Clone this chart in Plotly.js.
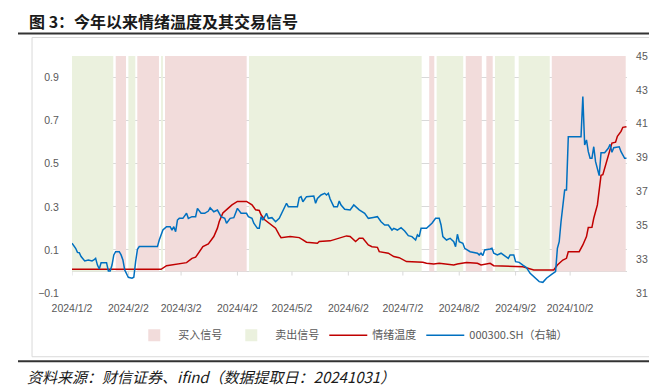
<!DOCTYPE html>
<html><head><meta charset="utf-8">
<script src="https://cdn.plot.ly/plotly-3.0.1.min.js"></script>
<style>html,body{margin:0;padding:0;background:#fff}</style>
</head><body><div id="chart" style="width:649px;height:392px"></div>
<script>
// ---- data ----
const tickDates = ['2024-01-02','2024-02-02','2024-03-02','2024-04-02','2024-05-02','2024-06-02','2024-07-02','2024-08-02','2024-09-02','2024-10-02'];
const tickLabels = ['2024/1/2','2024/2/2','2024/3/2','2024/4/2','2024/5/2','2024/6/2','2024/7/2','2024/8/2','2024/9/2','2024/10/2'];

// buy-signal periods (买入信号)
const buyStart = ['2024-01-26T01:00','2024-02-06T22:00','2024-02-22T04:00','2024-07-16T12:00','2024-08-05T14:00','2024-08-16T22:00','2024-09-21T22:00'];
const buyEnd   = ['2024-01-31T17:00','2024-02-18T20:00','2024-04-07T02:00','2024-07-19T07:00','2024-08-14T10:00','2024-08-20T10:00','2024-11-01T14:00'];
// sell-signal periods (卖出信号)
const sellStart = ['2024-01-02T00:00','2024-02-02T00:00','2024-02-20T00:00','2024-04-08T09:00','2024-07-20T14:00','2024-08-21T16:00','2024-09-03T17:00'];
const sellEnd   = ['2024-01-24T17:00','2024-02-05T20:00','2024-02-21T00:00','2024-07-12T08:00','2024-08-04T05:00','2024-09-01T12:00','2024-09-20T19:00'];

// 情绪温度 (left axis)
const tempDates = ['2024-01-02','2024-02-20','2024-02-23','2024-02-29','2024-03-05','2024-03-08','2024-03-10','2024-03-14','2024-03-17','2024-03-20','2024-03-22','2024-03-23','2024-03-25','2024-03-28','2024-03-30','2024-04-02','2024-04-07','2024-04-10','2024-04-12','2024-04-14','2024-04-15','2024-04-17','2024-04-21','2024-04-23','2024-04-25','2024-04-26','2024-05-01','2024-05-06','2024-05-08','2024-05-10','2024-05-16','2024-05-17','2024-05-23','2024-05-28','2024-06-01','2024-06-03','2024-06-06','2024-06-08','2024-06-10','2024-06-13','2024-06-15','2024-06-18','2024-06-19','2024-06-24','2024-06-27','2024-06-30','2024-07-04','2024-07-13','2024-07-15','2024-07-19','2024-07-22','2024-07-30','2024-08-01','2024-08-06','2024-08-12','2024-08-14','2024-08-19','2024-08-21','2024-08-26','2024-09-03','2024-09-06','2024-09-12','2024-09-23','2024-09-25','2024-09-28','2024-09-30','2024-10-01','2024-10-07','2024-10-09','2024-10-11','2024-10-12','2024-10-14','2024-10-15','2024-10-17','2024-10-18','2024-10-19','2024-10-20','2024-10-22','2024-10-24','2024-10-25','2024-10-27','2024-10-28','2024-10-30','2024-10-31','2024-11-02'];
const tempValues = [0.01,0.01,0.027,0.034,0.041,0.061,0.066,0.115,0.128,0.162,0.201,0.232,0.271,0.294,0.309,0.325,0.325,0.309,0.286,0.283,0.263,0.24,0.216,0.201,0.17,0.157,0.162,0.157,0.147,0.136,0.131,0.139,0.142,0.154,0.165,0.162,0.139,0.154,0.154,0.123,0.115,0.112,0.092,0.085,0.069,0.064,0.046,0.043,0.038,0.035,0.038,0.03,0.035,0.041,0.038,0.03,0.038,0.027,0.025,0.025,0.022,0.007,0.007,0.03,0.053,0.061,0.092,0.092,0.123,0.162,0.204,0.205,0.247,0.309,0.371,0.446,0.449,0.51,0.573,0.596,0.60,0.627,0.65,0.669,0.672];

// 000300.SH (right axis, /100)
const idxDates = ['2024-01-02','2024-01-04','2024-01-05','2024-01-06','2024-01-07','2024-01-09','2024-01-11','2024-01-13','2024-01-14','2024-01-15','2024-01-16','2024-01-17','2024-01-18','2024-01-20','2024-01-21','2024-01-22','2024-01-23','2024-01-24','2024-01-25','2024-01-26','2024-01-28','2024-01-29','2024-01-30','2024-01-31','2024-02-01','2024-02-02','2024-02-04','2024-02-05','2024-02-06','2024-02-07','2024-02-08','2024-02-18','2024-02-19','2024-02-21','2024-02-23','2024-02-25','2024-02-26','2024-02-27','2024-02-28','2024-02-29','2024-03-01','2024-03-03','2024-03-05','2024-03-06','2024-03-08','2024-03-10','2024-03-11','2024-03-13','2024-03-15','2024-03-17','2024-03-18','2024-03-20','2024-03-22','2024-03-24','2024-03-26','2024-03-27','2024-03-29','2024-03-31','2024-04-02','2024-04-04','2024-04-07','2024-04-08','2024-04-10','2024-04-11','2024-04-13','2024-04-14','2024-04-15','2024-04-16','2024-04-18','2024-04-19','2024-04-21','2024-04-23','2024-04-25','2024-04-27','2024-04-29','2024-04-30','2024-05-05','2024-05-06','2024-05-07','2024-05-08','2024-05-10','2024-05-14','2024-05-15','2024-05-16','2024-05-18','2024-05-20','2024-05-21','2024-05-22','2024-05-23','2024-05-25','2024-05-27','2024-05-28','2024-05-29','2024-05-31','2024-06-03','2024-06-05','2024-06-07','2024-06-08','2024-06-11','2024-06-13','2024-06-15','2024-06-18','2024-06-20','2024-06-22','2024-06-24','2024-06-26','2024-06-27','2024-06-29','2024-07-01','2024-07-03','2024-07-05','2024-07-07','2024-07-09','2024-07-10','2024-07-11','2024-07-12','2024-07-15','2024-07-18','2024-07-20','2024-07-22','2024-07-23','2024-07-24','2024-07-26','2024-07-28','2024-07-30','2024-07-31','2024-08-01','2024-08-02','2024-08-04','2024-08-05','2024-08-08','2024-08-12','2024-08-13','2024-08-14','2024-08-15','2024-08-16','2024-08-19','2024-08-20','2024-08-21','2024-08-23','2024-08-25','2024-08-27','2024-08-29','2024-08-30','2024-09-01','2024-09-02','2024-09-04','2024-09-06','2024-09-08','2024-09-10','2024-09-13','2024-09-15','2024-09-17','2024-09-19','2024-09-22','2024-09-24','2024-09-25','2024-09-26','2024-09-27','2024-09-28','2024-09-29','2024-09-30','2024-10-01','2024-10-08','2024-10-09','2024-10-10','2024-10-11','2024-10-12','2024-10-13','2024-10-14','2024-10-15','2024-10-16','2024-10-17','2024-10-18','2024-10-19','2024-10-21','2024-10-23','2024-10-24','2024-10-25','2024-10-26','2024-10-29','2024-10-30','2024-11-01','2024-11-02'];
const idxValues = [33.94,33.64,33.40,33.38,33.15,32.89,32.95,32.89,32.95,33.05,32.65,32.42,32.79,32.81,32.79,32.30,32.30,32.65,33.25,33.44,33.44,33.25,32.95,32.36,32.16,31.93,31.87,31.93,32.85,33.58,33.74,33.74,34.13,34.72,34.92,34.92,34.72,34.92,34.62,35.31,35.41,35.41,35.71,35.41,35.51,35.51,36.00,35.71,35.71,35.84,36.04,35.80,35.90,35.51,35.41,35.12,35.41,35.45,36.00,35.71,35.71,35.51,35.41,35.12,34.82,34.82,35.51,35.31,35.71,35.41,35.45,35.21,35.41,35.90,36.30,36.10,36.10,36.63,36.69,36.39,36.69,36.73,36.30,36.59,36.79,36.89,36.79,36.89,36.55,36.10,36.10,36.43,36.20,35.95,35.91,36.20,36.00,35.91,35.71,35.41,35.45,35.51,35.21,35.02,35.02,34.72,34.82,34.72,34.86,34.66,34.39,34.33,34.13,34.43,34.33,34.82,34.82,35.12,35.41,35.41,35.02,34.33,34.13,34.23,34.03,33.74,34.47,34.03,33.94,33.64,33.44,33.35,33.25,33.35,33.21,33.54,33.60,33.64,33.35,33.25,33.35,33.21,33.05,33.25,33.25,32.85,32.81,32.65,32.50,32.16,31.87,31.67,31.63,31.87,32.11,32.26,33.64,34.03,35.21,36.20,37.08,37.08,40.23,40.23,42.60,39.74,40.04,39.35,38.96,38.96,39.64,38.76,38.27,37.93,39.29,39.29,39.55,39.78,39.31,39.58,39.64,39.35,38.96,38.96];

// ---- build ----
const ms = s => Date.parse(s + ':00Z');
function bandBars(starts, ends){
  const x = [], w = [], y = [];
  for (let i = 0; i < starts.length; i++){
    const a = ms(starts[i]), b = ms(ends[i]);
    x.push((a + b) / 2); w.push(b - a); y.push(1);
  }
  return {x, w, y};
}
const buy = bandBars(buyStart, buyEnd);
const sell = bandBars(sellStart, sellEnd);

const tickFont = {family:'Liberation Sans, Arial, sans-serif', size:10.5, color:'#595959'};
const cjk = 'Noto Sans CJK SC, sans-serif';

const traces = [
  {type:'bar', name:'买入信号', x:buy.x, y:buy.y, width:buy.w, base:0, marker:{color:'#f2dcdb', line:{width:0}}, hoverinfo:'skip'},
  {type:'bar', name:'卖出信号', x:sell.x, y:sell.y, width:sell.w, base:0, marker:{color:'#ebf1de', line:{width:0}}, hoverinfo:'skip'},
  {type:'scatter', mode:'lines', name:'情绪温度', x:tempDates, y:tempValues, line:{color:'#c00000', width:1.5}, hoverinfo:'skip'},
  {type:'scatter', mode:'lines', name:'000300.SH（右轴）', x:idxDates, y:idxValues, yaxis:'y2', line:{color:'#0070c0', width:1.5}, hoverinfo:'skip'}
];

const shapes = [
  {type:'line', xref:'paper', yref:'paper', x0:-0.0973, x1:1.04, y0:1.095, y1:1.095, line:{color:'#333333', width:2}},
  {type:'line', xref:'paper', yref:'paper', x0:-0.0973, x1:1.04, y0:-0.2875, y1:-0.2875, line:{color:'#333333', width:2}},
  {type:'rect', xref:'paper', yref:'paper', x0:-0.072, x1:1.06, y0:-0.269, y1:1.078, line:{color:'#d9d9d9', width:1}, fillcolor:'rgba(0,0,0,0)', layer:'below'}
];
tickDates.forEach(d => shapes.push({type:'line', xref:'x', yref:'y', x0:d, x1:d, y0:0, y1:-0.019, line:{color:'#d9d9d9', width:1}}));

const layout = {
  width:649, height:392,
  margin:{l:72, r:22, t:56, b:99, pad:0},
  paper_bgcolor:'#ffffff', plot_bgcolor:'#ffffff',
  title:{text:'图 3：今年以来情绪温度及其交易信号', xref:'container', x:29/649, xanchor:'left', yref:'container', y:1-22/392, yanchor:'middle',
         font:{family:cjk, size:16, weight:700, color:'#1a1a1a'}},
  barmode:'overlay',
  showlegend:true,
  legend:{orientation:'h', x:0.105, xanchor:'left', y:-0.178, yanchor:'middle', font:{family:cjk, size:11, color:'#595959'},
          bgcolor:'rgba(0,0,0,0)', itemwidth:38},
  xaxis:{type:'date', range:['2024-01-02','2024-11-02 07:00'], tickvals:tickDates, ticktext:tickLabels,
         ticks:'outside', ticklen:5, tickcolor:'rgba(0,0,0,0)', showgrid:false, zeroline:false, showline:false,
         tickfont:tickFont, fixedrange:true, automargin:false},
  yaxis:{range:[-0.1,1.0], tick0:-0.1, dtick:0.2, tickformat:'.1f', showgrid:true, gridcolor:'#d9d9d9', gridwidth:1,
         zeroline:true, zerolinecolor:'#d9d9d9', zerolinewidth:1, showline:false,
         ticks:'outside', ticklen:10, tickcolor:'rgba(0,0,0,0)', tickfont:tickFont, fixedrange:true, automargin:false},
  yaxis2:{overlaying:'y', side:'right', range:[31,45], tick0:31, dtick:2, showgrid:false, zeroline:false, showline:false,
          ticks:'outside', ticklen:6, tickcolor:'rgba(0,0,0,0)', tickfont:tickFont, fixedrange:true, automargin:false},
  shapes:shapes,
  annotations:[{text:'资料来源：财信证券、ifind（数据提取日：20241031）', xref:'paper', yref:'paper', x:-0.0847, y:-0.354,
                xanchor:'left', yanchor:'middle', showarrow:false,
                font:{family:cjk, size:15, style:'italic', color:'#1a1a1a'}}]
};

Plotly.newPlot('chart', traces, layout, {staticPlot:true, displayModeBar:false});
</script>
</body></html>
